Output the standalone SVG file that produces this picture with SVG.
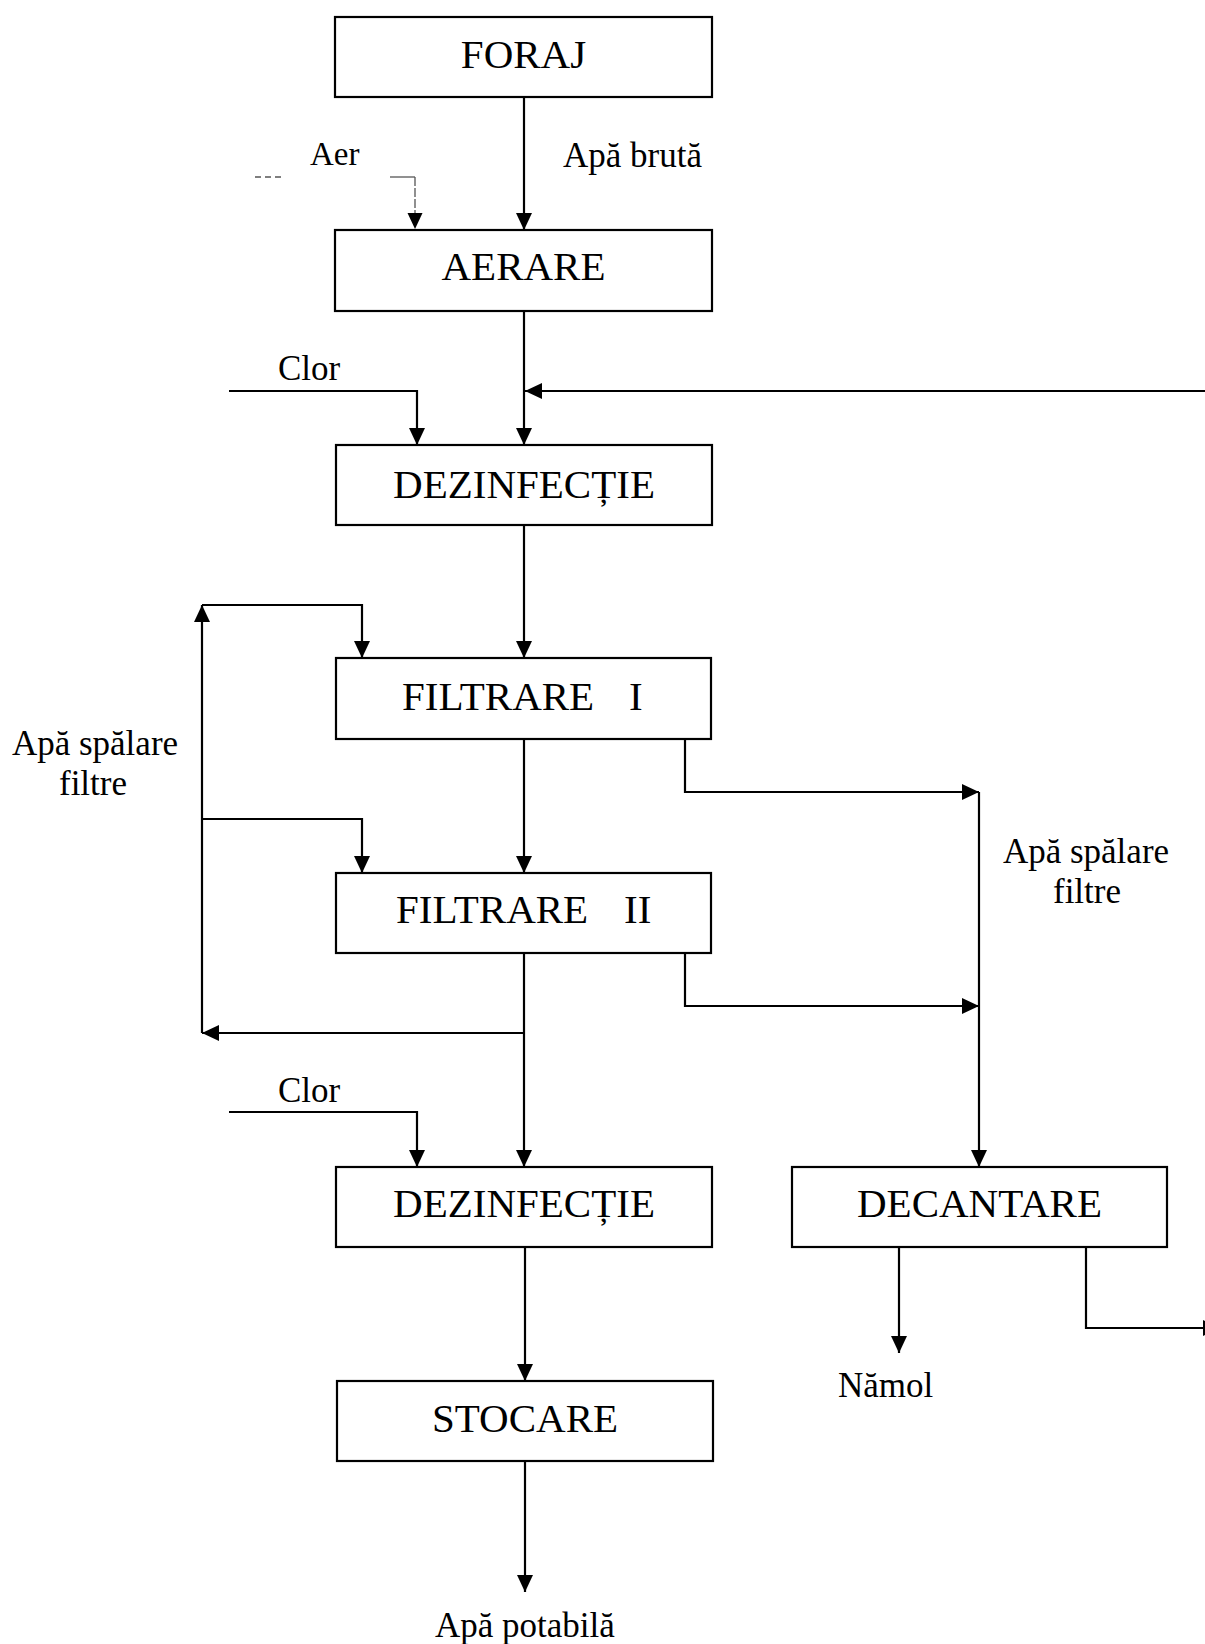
<svg xmlns="http://www.w3.org/2000/svg" width="1205" height="1644" viewBox="0 0 1205 1644">
  <defs>
    <marker id="arrow" markerUnits="userSpaceOnUse" markerWidth="17" markerHeight="16" refX="17" refY="8" orient="auto">
      <path d="M0,0 L17,8 L0,16 z" fill="#000"/>
    </marker>
    <style>
      .box { fill: #fff; stroke: #000; stroke-width: 2.2; }
      .title { font-family: "Liberation Serif", "Times New Roman", serif; font-size: 41px; fill: #000; text-anchor: middle; }
      .label { font-family: "Liberation Serif", "Times New Roman", serif; font-size: 35px; fill: #000; }
      .mid { text-anchor: middle; }
      .wire { fill: none; stroke: #000; stroke-width: 2.2; }
      .faint { fill: none; stroke: #555; stroke-width: 1.3; }
    </style>
  </defs>
  <rect width="1205" height="1644" fill="#fff"/>

  <!-- connectors -->
  <g id="connectors">
    <!-- main line -->
    <path class="wire" d="M524,97 V230" marker-end="url(#arrow)"/>
    <path class="wire" d="M524,311 V445" marker-end="url(#arrow)"/>
    <path class="wire" d="M524,525 V658" marker-end="url(#arrow)"/>
    <path class="wire" d="M524,739 V873" marker-end="url(#arrow)"/>
    <path class="wire" d="M524,953 V1167" marker-end="url(#arrow)"/>
    <path class="wire" d="M525,1247 V1381" marker-end="url(#arrow)"/>
    <path class="wire" d="M525,1461 V1592" marker-end="url(#arrow)"/>

    <!-- air supply (faint in print) -->
    <path class="faint" d="M255,177 H283" stroke-dasharray="6 4"/>
    <path class="faint" d="M390,177 H415"/>
    <path class="faint" d="M415,177 V214" stroke-dasharray="9 2"/>
    <path d="M407.5,213 L422.5,213 L415,229 z" fill="#000"/>

    <!-- chlorine feeds -->
    <path class="wire" d="M229,391 H417 V445" marker-end="url(#arrow)"/>
    <path class="wire" d="M229,1112 H417 V1167" marker-end="url(#arrow)"/>

    <!-- decanted water returned to disinfection -->
    <path class="wire" d="M1205,391 H525" marker-end="url(#arrow)"/>

    <!-- filter wash water loop -->
    <path class="wire" d="M524,1033 H202" marker-end="url(#arrow)"/>
    <path class="wire" d="M202,1033 V605" marker-end="url(#arrow)"/>
    <path class="wire" d="M202,605 H362 V658" marker-end="url(#arrow)"/>
    <path class="wire" d="M202,819 H362 V873" marker-end="url(#arrow)"/>

    <!-- spent wash water to settling -->
    <path class="wire" d="M685,739 V792 H979" marker-end="url(#arrow)"/>
    <path class="wire" d="M685,953 V1006 H979" marker-end="url(#arrow)"/>
    <path class="wire" d="M979,792 V1167" marker-end="url(#arrow)"/>

    <!-- settling outputs -->
    <path class="wire" d="M899,1247 V1353" marker-end="url(#arrow)"/>
    <path class="wire" d="M1086,1247 V1328 H1220" marker-end="url(#arrow)"/>
  </g>

  <!-- process steps -->
  <g id="foraj">
    <rect class="box" x="335" y="17" width="377" height="80"/>
    <text class="title" x="523.5" y="68">FORAJ</text>
  </g>
  <g id="aerare">
    <rect class="box" x="335" y="230" width="377" height="81"/>
    <text class="title" x="523.5" y="280">AERARE</text>
  </g>
  <g id="dezinfectie-1">
    <rect class="box" x="336" y="445" width="376" height="80"/>
    <text class="title" x="524" y="498">DEZINFECȚIE</text>
  </g>
  <g id="filtrare-1">
    <rect class="box" x="336" y="658" width="375" height="81"/>
    <text class="title" style="text-anchor:start" y="710"><tspan x="402">FILTRARE</tspan><tspan x="629">I</tspan></text>
  </g>
  <g id="filtrare-2">
    <rect class="box" x="336" y="873" width="375" height="80"/>
    <text class="title" style="text-anchor:start" y="923"><tspan x="396">FILTRARE</tspan><tspan x="624">II</tspan></text>
  </g>
  <g id="dezinfectie-2">
    <rect class="box" x="336" y="1167" width="376" height="80"/>
    <text class="title" x="524" y="1217">DEZINFECȚIE</text>
  </g>
  <g id="decantare">
    <rect class="box" x="792" y="1167" width="375" height="80"/>
    <text class="title" x="979.5" y="1217">DECANTARE</text>
  </g>
  <g id="stocare">
    <rect class="box" x="337" y="1381" width="376" height="80"/>
    <text class="title" x="525" y="1432">STOCARE</text>
  </g>

  <!-- stream labels -->
  <g id="labels">
    <text class="label" x="310" y="165" style="font-size:33px">Aer</text>
    <text class="label" x="563" y="167">Apă brută</text>
    <text class="label" x="278" y="380">Clor</text>
    <text class="label" x="278" y="1102">Clor</text>
    <text class="label mid" x="95" y="755">Apă spălare</text>
    <text class="label mid" x="93" y="795">filtre</text>
    <text class="label mid" x="1086" y="863">Apă spălare</text>
    <text class="label mid" x="1087" y="903">filtre</text>
    <text class="label" x="838" y="1397">Nămol</text>
    <text class="label" x="435" y="1637">Apă potabilă</text>
  </g>
</svg>
